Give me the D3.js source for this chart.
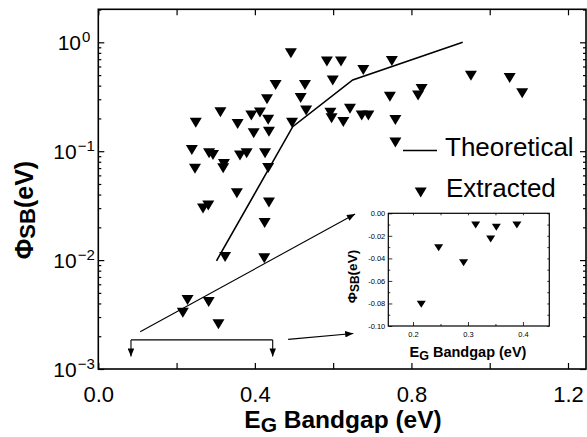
<!DOCTYPE html>
<html>
<head>
<meta charset="utf-8">
<script src="https://cdn.jsdelivr.net/npm/d3@7"></script>
<style>
  html, body { margin: 0; padding: 0; background: #fff; }
  svg { display: block; }
  text { font-family: "Liberation Sans", Arial, sans-serif; fill: #000; }
</style>
</head>
<body>
<div id="chart"></div>
<script>
// Schottky barrier height versus bandgap
const extractedX = [
  0.249, 0.312, 0.356, 0.391, 0.413, 0.434, 0.397, 0.436, 0.431, 0.453, 0.492, 0.495,
  0.239, 0.283, 0.293, 0.362, 0.379, 0.426, 0.247, 0.321, 0.319, 0.434, 0.354,
  0.2675, 0.281, 0.436, 0.425, 0.324, 0.424, 0.228, 0.282, 0.216, 0.307,
  0.584, 0.620, 0.677, 0.750, 0.599, 0.528, 0.517, 0.531, 0.593, 0.596, 0.643,
  0.626, 0.673, 0.690, 0.745, 0.759, 0.759, 0.826, 0.817, 0.952, 1.051, 1.083
];
const extractedY = [
  0.183, 0.228, 0.178, 0.213, 0.227, 0.194, 0.146, 0.151, 0.300, 0.405, 0.792, 0.183,
  0.1026, 0.0957, 0.0923, 0.0913, 0.0957, 0.0957, 0.069, 0.0763, 0.0697, 0.0701, 0.0411,
  0.0298, 0.0317, 0.0338, 0.0219, 0.0107, 0.0104, 0.0043, 0.00412, 0.00329, 0.00258,
  0.667, 0.667, 0.557, 0.673, 0.446, 0.405, 0.308, 0.236, 0.226, 0.201, 0.246,
  0.185, 0.213, 0.213, 0.317, 0.193, 0.120, 0.373, 0.325, 0.492, 0.470, 0.340
];
const theoryX = [0.302, 0.4967, 0.650, 0.931];
const theoryY = [0.00986, 0.168, 0.451, 1.0];

// negative barrier heights shown in the inset
const insetX = [0.215, 0.2466, 0.292, 0.314, 0.3413, 0.3516, 0.389];
const insetY = [-0.0807, -0.0305, -0.0438, -0.0104, -0.0228, -0.0124, -0.0104];

const xTickValues = [0, 0.2, 0.4, 0.6, 0.8, 1.0, 1.2];
const xTickLabels = ["0.0", "", "0.4", "", "0.8", "", "1.2"];
const yDecades = [-3, -2, -1, 0];
const insetXTicks = [0.2, 0.3, 0.4];
const insetXLabels = ["0.2", "0.3", "0.4"];
const insetYTicks = [0, -0.02, -0.04, -0.06, -0.08, -0.10];
const insetYLabels = ["0.00", "-0.02", "-0.04", "-0.06", "-0.08", "-0.10"];

// pointer annotations, in data units of the main axes
const calloutFrom = [0.107, 0.0022], calloutTo = [0.656, 0.0265];
const bracketX = [0.0835, 0.4456], bracketY = 0.00185, bracketTipY = 0.0013;
const insetPointerFrom = [0.485, 0.00187], insetPointerTo = [0.6515, 0.00212];

const W = 587, H = 437;
const svg = d3.select("#chart").append("svg").attr("width", W).attr("height", H);

const plot = { left: 98.3, right: 586, top: 9.3, bottom: 369 };
const x = d3.scaleLinear().domain([0, 1.246]).range([plot.left, plot.right]);
const y = d3.scaleLog().domain([1e-3, 2.01]).range([plot.bottom, plot.top]);

// arrowhead marker
const defs = svg.append("defs");
defs.append("marker").attr("id", "head")
  .attr("viewBox", "0 0 10 8").attr("refX", 10).attr("refY", 4)
  .attr("markerWidth", 9).attr("markerHeight", 6.5)
  .attr("markerUnits", "userSpaceOnUse").attr("orient", "auto")
  .append("path").attr("d", "M0,0 L10,4 L0,8 Z").attr("fill", "#000");

// ---- main axes ----
const yMajor = yDecades.map(k => Math.pow(10, k));
const yMinor = [];
yDecades.forEach(k => { for (let m = 2; m <= 9; m++) { const v = m * Math.pow(10, k); if (v <= 2.01) yMinor.push(v); } });

function styleAxis(g) {
  g.select(".domain").remove();
  g.selectAll(".tick line").attr("stroke", "#000").attr("stroke-width", 1.2);
}

svg.append("g").attr("transform", `translate(0,${plot.bottom})`)
  .call(d3.axisBottom(x).tickValues(xTickValues).tickSizeInner(-6).tickSizeOuter(0)
    .tickFormat((d, i) => xTickLabels[i]))
  .call(styleAxis)
  .call(g => g.selectAll(".tick text").attr("y", 32.7).attr("dy", null)
    .attr("font-size", 22).attr("font-family", "Liberation Sans, Arial, sans-serif"));

svg.append("g").attr("transform", `translate(0,${plot.top})`)
  .call(d3.axisTop(x).tickValues(xTickValues).tickSizeInner(-6).tickSizeOuter(0).tickFormat(""))
  .call(styleAxis);

function yAxisPair(axisFn, xpos, inward) {
  svg.append("g").attr("transform", `translate(${xpos},0)`)
    .call(axisFn(y).tickValues(yMajor).tickSizeInner(inward * 6).tickSizeOuter(0).tickFormat(""))
    .call(styleAxis);
  svg.append("g").attr("transform", `translate(${xpos},0)`)
    .call(axisFn(y).tickValues(yMinor).tickSizeInner(inward * 3).tickSizeOuter(0).tickFormat(""))
    .call(styleAxis);
}
yAxisPair(d3.axisLeft, plot.left, -1);
yAxisPair(d3.axisRight, plot.right, -1);

// decade labels 10^k on the left axis
svg.selectAll(".ylab").data(yDecades).join("text").attr("class", "ylab")
  .attr("x", 74).attr("y", d => y(Math.pow(10, d)) + 7.5)
  .attr("text-anchor", "middle").attr("font-size", 21)
  .each(function (d) {
    const t = d3.select(this);
    t.append("tspan").text("10");
    t.append("tspan").attr("font-size", 15).attr("dy", -8).attr("dx", 1)
      .text(d === 0 ? "0" : "\u2212" + Math.abs(d));
  });

// frame
svg.append("rect").attr("x", plot.left).attr("y", plot.top)
  .attr("width", plot.right - plot.left).attr("height", plot.bottom - plot.top)
  .attr("fill", "none").attr("stroke", "#000").attr("stroke-width", 1.6);

// axis titles
svg.append("text").attr("x", 343).attr("y", 427.5).attr("text-anchor", "middle")
  .attr("font-size", 24.5).attr("font-weight", "bold")
  .call(t => {
    t.append("tspan").text("E");
    t.append("tspan").attr("font-size", 21).attr("dy", 4.5).text("G");
    t.append("tspan").attr("dy", -4.5).text(" Bandgap (eV)");
  });
svg.append("text").attr("transform", "translate(33,210) rotate(-90)").attr("text-anchor", "middle")
  .attr("font-size", 25).attr("font-weight", "bold")
  .call(t => {
    t.append("tspan").text("\u03A6");
    t.append("tspan").attr("font-size", 22).attr("dy", 2).text("SB");
    t.append("tspan").attr("dy", -2).text("(eV)");
  });

// ---- marks ----
const theory = theoryX.map((v, i) => [v, theoryY[i]]);
svg.append("path").datum(theory)
  .attr("d", d3.line().x(d => x(d[0])).y(d => y(d[1])))
  .attr("fill", "none").attr("stroke", "#000").attr("stroke-width", 1.6);

const tri = (w, h) => `M${-w / 2},${-h / 2} L${w / 2},${-h / 2} L0,${h / 2} Z`;
svg.append("g").selectAll("path").data(extractedX.map((v, i) => [v, extractedY[i]]))
  .join("path").attr("d", tri(12, 10))
  .attr("transform", d => `translate(${x(d[0])},${y(d[1])})`).attr("fill", "#000");

// pointers
svg.append("line")
  .attr("x1", x(calloutFrom[0])).attr("y1", y(calloutFrom[1]))
  .attr("x2", x(calloutTo[0])).attr("y2", y(calloutTo[1]))
  .attr("stroke", "#000").attr("stroke-width", 1.1).attr("marker-end", "url(#head)");
svg.append("line")
  .attr("x1", x(insetPointerFrom[0])).attr("y1", y(insetPointerFrom[1]))
  .attr("x2", x(insetPointerTo[0])).attr("y2", y(insetPointerTo[1]))
  .attr("stroke", "#000").attr("stroke-width", 1.1).attr("marker-end", "url(#head)");
svg.append("line")
  .attr("x1", x(bracketX[0])).attr("x2", x(bracketX[1]))
  .attr("y1", y(bracketY)).attr("y2", y(bracketY))
  .attr("stroke", "#000").attr("stroke-width", 1.1);
bracketX.forEach(bx => {
  svg.append("line").attr("x1", x(bx)).attr("x2", x(bx))
    .attr("y1", y(bracketY)).attr("y2", y(bracketTipY))
    .attr("stroke", "#000").attr("stroke-width", 1.1).attr("marker-end", "url(#head)");
});

// legend
svg.append("line").attr("x1", 403).attr("x2", 437).attr("y1", 150.5).attr("y2", 150.5)
  .attr("stroke", "#000").attr("stroke-width", 1.6);
svg.append("text").attr("x", 445).attr("y", 155.5).attr("font-size", 26).text("Theoretical");
svg.append("path").attr("d", tri(12, 10)).attr("transform", "translate(420.7,192.5)").attr("fill", "#000");
svg.append("text").attr("x", 446).attr("y", 196.7).attr("font-size", 26).text("Extracted");

// ---- inset ----
const ib = { left: 388.3, right: 549.3, top: 213.3, bottom: 326 };
const xi = d3.scaleLinear().domain([0.155, 0.448]).range([ib.left, ib.right]);
const yi = d3.scaleLinear().domain([-0.10, 0]).range([ib.bottom, ib.top]);
const inset = svg.append("g");
inset.append("rect").attr("x", ib.left).attr("y", ib.top)
  .attr("width", ib.right - ib.left).attr("height", ib.bottom - ib.top)
  .attr("fill", "#fff").attr("stroke", "#000").attr("stroke-width", 1.2);

const insetXMinor = [0.25, 0.35];
const insetYMinor = [-0.01, -0.03, -0.05, -0.07, -0.09];
function insetStyle(g) {
  g.select(".domain").remove();
  g.selectAll(".tick line").attr("stroke", "#000").attr("stroke-width", 0.8);
}
inset.append("g").attr("transform", `translate(0,${ib.bottom})`)
  .call(d3.axisBottom(xi).tickValues(insetXTicks).tickSizeInner(-4).tickSizeOuter(0)
    .tickFormat((d, i) => insetXLabels[i]))
  .call(insetStyle)
  .call(g => g.selectAll(".tick text").attr("y", 10.5).attr("dy", null)
    .attr("font-size", 7.5).attr("font-family", "Liberation Sans, Arial, sans-serif"));
inset.append("g").attr("transform", `translate(0,${ib.bottom})`)
  .call(d3.axisBottom(xi).tickValues(insetXMinor).tickSizeInner(-2).tickSizeOuter(0).tickFormat(""))
  .call(insetStyle);
inset.append("g").attr("transform", `translate(0,${ib.top})`)
  .call(d3.axisTop(xi).tickValues(insetXTicks.concat(insetXMinor)).tickSizeInner(-2).tickSizeOuter(0).tickFormat(""))
  .call(insetStyle);
inset.append("g").attr("transform", `translate(${ib.left},0)`)
  .call(d3.axisLeft(yi).tickValues(insetYTicks).tickSizeInner(-4).tickSizeOuter(0)
    .tickFormat((d, i) => insetYLabels[i]))
  .call(insetStyle)
  .call(g => g.selectAll(".tick text").attr("x", -3).attr("dy", "0.32em")
    .attr("font-size", 7.5).attr("font-family", "Liberation Sans, Arial, sans-serif"));
inset.append("g").attr("transform", `translate(${ib.left},0)`)
  .call(d3.axisLeft(yi).tickValues(insetYMinor).tickSizeInner(-2).tickSizeOuter(0).tickFormat(""))
  .call(insetStyle);
inset.append("g").attr("transform", `translate(${ib.right},0)`)
  .call(d3.axisRight(yi).tickValues(insetYTicks.concat(insetYMinor)).tickSizeInner(-2).tickSizeOuter(0).tickFormat(""))
  .call(insetStyle);

inset.append("g").selectAll("path").data(insetX.map((v, i) => [v, insetY[i]]))
  .join("path").attr("d", tri(9, 7))
  .attr("transform", d => `translate(${xi(d[0])},${yi(d[1])})`).attr("fill", "#000");

inset.append("text").attr("x", 468).attr("y", 356.5).attr("text-anchor", "middle")
  .attr("font-size", 14.5).attr("font-weight", "bold")
  .call(t => {
    t.append("tspan").text("E");
    t.append("tspan").attr("font-size", 12.5).attr("dy", 3).text("G");
    t.append("tspan").attr("dy", -3).text(" Bandgap (eV)");
  });
inset.append("text").attr("transform", "translate(357,276.5) rotate(-90)").attr("text-anchor", "middle")
  .attr("font-size", 13.5).attr("font-weight", "bold")
  .call(t => {
    t.append("tspan").text("\u03A6");
    t.append("tspan").attr("font-size", 12).attr("dy", 1.5).text("SB");
    t.append("tspan").attr("dy", -1.5).text("(eV)");
  });
</script>
</body>
</html>
